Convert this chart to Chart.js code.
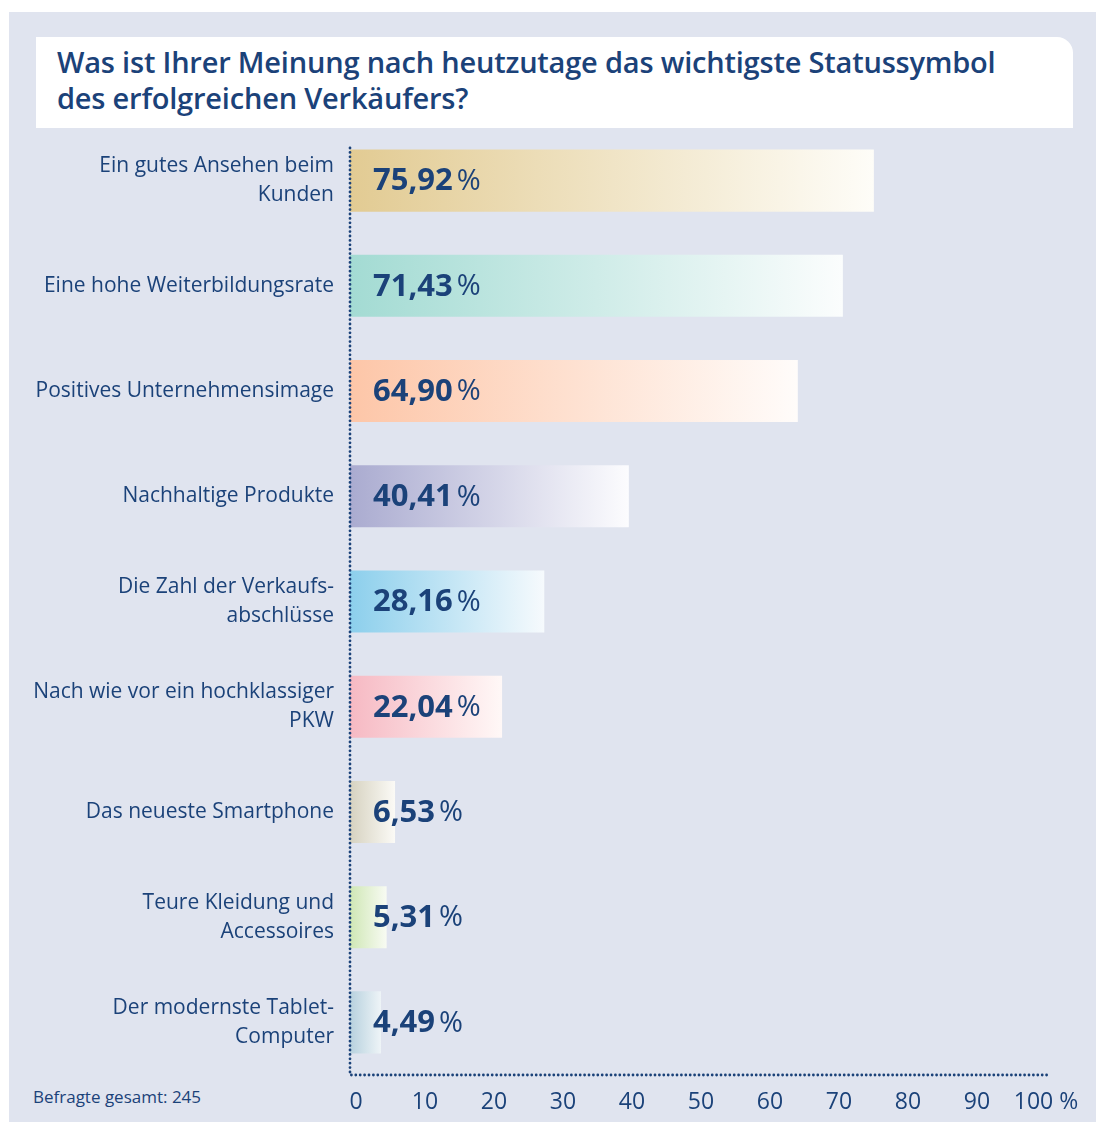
<!DOCTYPE html>
<html lang="de">
<head>
<meta charset="utf-8">
<script src="https://cdn.jsdelivr.net/npm/chart.js@4"></script>
<style>
  html, body { margin: 0; padding: 0; background: #fff; }
  body { width: 1096px; height: 1122px; position: relative; overflow: hidden; font-family: "Open Sans", sans-serif; }
  #panel { position: absolute; left: 9px; top: 12px; width: 1087px; height: 1110px; background: #e0e4ef; }
  #title { position: absolute; left: 36px; top: 37px; width: 1037px; height: 91px; background: #fff;
           border-top-right-radius: 16px; box-sizing: border-box; padding: 7px 0 0 21px;
           color: #1b4279; font-size: 29px; font-weight: 600; line-height: 36px; letter-spacing: -0.2px; }
  #note { position: absolute; left: 33px; top: 1085px; color: #1b4279; font-size: 17px; }
  #wrap { position: absolute; left: 0; top: 0; width: 1096px; height: 1122px; }
</style>
</head>
<body>
<div id="panel"></div>
<div id="title">Was ist Ihrer Meinung nach heutzutage das wichtigste Statussymbol<br>des erfolgreichen Verkäufers?</div>
<div id="note">Befragte gesamt: 245</div>
<div id="wrap"><canvas id="statusChart"></canvas></div>
<script>
const categories = [
  ["Ein gutes Ansehen beim", "Kunden"],
  "Eine hohe Weiterbildungsrate",
  "Positives Unternehmensimage",
  "Nachhaltige Produkte",
  ["Die Zahl der Verkaufs-", "abschlüsse"],
  ["Nach wie vor ein hochklassiger", "PKW"],
  "Das neueste Smartphone",
  ["Teure Kleidung und", "Accessoires"],
  ["Der modernste Tablet-", "Computer"]
];
const values = [75.92, 71.43, 64.90, 40.41, 28.16, 22.04, 6.53, 5.31, 4.49];
const xTicks = [0, 10, 20, 30, 40, 50, 60, 70, 80, 90, 100];

const startColors = ["#e2cb93", "#a3dbd3", "#fdc6a8", "#aaabd0", "#8ccfec", "#f6b9c3", "#d6d2c0", "#cfe7b5", "#b7d1de"];
const endColors   = ["#fefdf8", "#fbfdfd", "#fffcfa", "#fcfcfe", "#f6fafd", "#fff8f7", "#fbfaf6", "#f8fbf3", "#eef4f7"];

const navy = "#1b4279";
const fontFamily = '"Open Sans", sans-serif';

function barGradient(ctx) {
  const chart = ctx.chart;
  if (!chart.chartArea || ctx.type !== "data") return startColors[ctx.dataIndex];
  const x = chart.scales.x;
  const x0 = x.getPixelForValue(0);
  const x1 = x.getPixelForValue(values[ctx.dataIndex]);
  const g = chart.ctx.createLinearGradient(x0, 0, x1, 0);
  g.addColorStop(0, startColors[ctx.dataIndex]);
  g.addColorStop(1, endColors[ctx.dataIndex]);
  return g;
}

// dotted axis lines (left and bottom)
const dottedAxes = {
  id: "dottedAxes",
  afterDatasetsDraw(chart) {
    const { ctx, chartArea } = chart;
    ctx.save();
    ctx.strokeStyle = navy;
    ctx.lineWidth = 2.8;
    ctx.lineCap = "round";
    ctx.setLineDash([0, 4.4]);
    ctx.beginPath();
    ctx.moveTo(chartArea.left, chartArea.top + 20);
    ctx.lineTo(chartArea.left, chartArea.bottom);
    ctx.lineTo(chartArea.right + 7, chartArea.bottom);
    ctx.stroke();
    ctx.restore();
  }
};

const valueLabels = {
  id: "valueLabels",
  afterDatasetsDraw(chart) {
    const { ctx } = chart;
    const meta = chart.getDatasetMeta(0);
    ctx.save();
    ctx.fillStyle = navy;
    ctx.textBaseline = "middle";
    ctx.textAlign = "left";
    meta.data.forEach((bar, i) => {
      const num = values[i].toFixed(2).replace(".", ",");
      const x = bar.base + 23;
      const y = bar.y + 1;
      ctx.font = "bold 31px " + fontFamily;
      ctx.fillText(num, x, y);
      const w = ctx.measureText(num).width;
      ctx.font = "29px " + fontFamily;
      ctx.fillText("%", x + w + 4, y);
    });
    ctx.restore();
  }
};

new Chart(document.getElementById("statusChart"), {
  type: "bar",
  data: {
    labels: categories,
    datasets: [{
      data: values,
      backgroundColor: barGradient,
      borderWidth: 0,
      categoryPercentage: 1,
      barPercentage: 0.59
    }]
  },
  options: {
    indexAxis: "y",
    responsive: true,
    maintainAspectRatio: false,
    animation: false,
    layout: { padding: { left: 0, top: 128, right: 56, bottom: 0 } },
    plugins: { legend: { display: false }, tooltip: { enabled: false } },
    scales: {
      x: {
        min: 0,
        max: 100,
        afterBuildTicks(scale) { scale.ticks = xTicks.map(v => ({ value: v })); },
        afterFit(scale) { scale.height = 47; },
        grid: { display: false, drawTicks: false },
        border: { display: false },
        ticks: {
          color: navy,
          font: { family: fontFamily, size: 23 },
          padding: 14,
          labelOffset: 6,
          maxRotation: 0,
          autoSkip: false,
          callback: v => (v === 100 ? "100 %" : String(v))
        }
      },
      y: {
        afterFit(scale) { scale.width = 350; },
        grid: { display: false, drawTicks: false },
        border: { display: false },
        ticks: {
          color: navy,
          font: { family: fontFamily, size: 21, lineHeight: 1.38 },
          padding: 16,
          autoSkip: false
        }
      }
    }
  },
  plugins: [dottedAxes, valueLabels]
});
</script>
</body>
</html>
